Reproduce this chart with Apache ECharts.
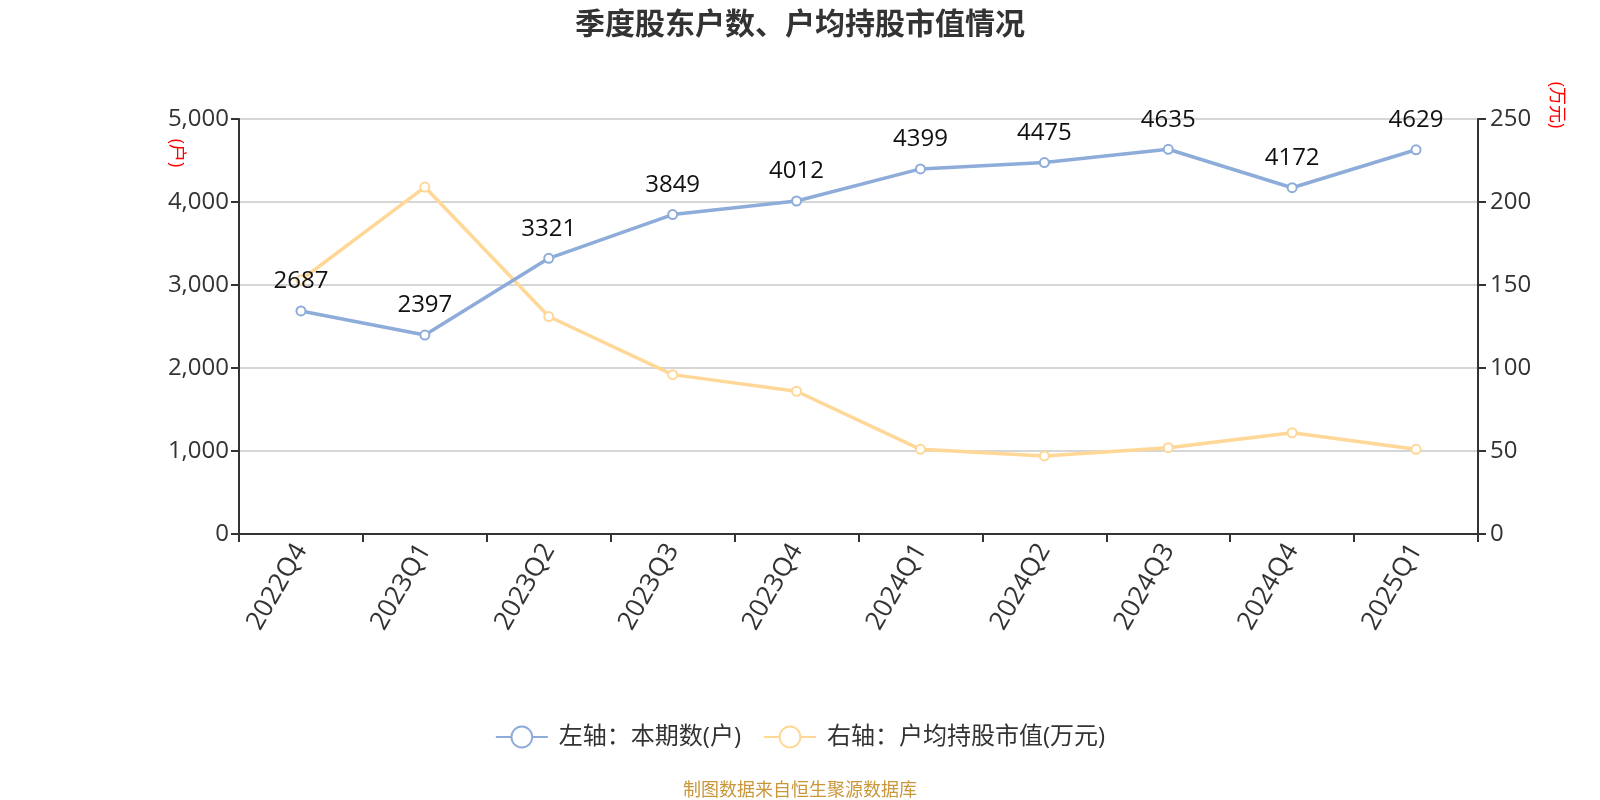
<!DOCTYPE html>
<html><head><meta charset="utf-8">
<script src="https://cdn.jsdelivr.net/npm/echarts@6/dist/echarts.min.js"></script>
<style>html,body{margin:0;padding:0;background:#fff}#c{width:1600px;height:800px}</style>
</head><body><div id="c"></div>
<script>
var categories = ['2022Q4','2023Q1','2023Q2','2023Q3','2023Q4','2024Q1','2024Q2','2024Q3','2024Q4','2025Q1'];
var holders = [2687,2397,3321,3849,4012,4399,4475,4635,4172,4629];
var avgValue = [153,209,131,96,86,51,47,52,61,51];
var leftTicks = {min:0, max:5000, interval:1000};
var rightTicks = {min:0, max:250, interval:50};

var chart = echarts.init(document.getElementById('c'));
var font = '"Open Sans","Noto Sans CJK SC",sans-serif';
chart.setOption({
  textStyle:{fontFamily:font},
  title:[{text:'季度股东户数、户均持股市值情况',left:'center',top:5,textStyle:{fontSize:30,fontWeight:'bold',color:'#333',fontFamily:font}},
         {text:'制图数据来自恒生聚源数据库',left:'center',top:777,textStyle:{fontSize:18,fontWeight:'normal',color:'#c9973a',fontFamily:font}}],
  grid:{left:239,right:122,top:119,bottom:266},
  legend:{bottom:46,left:'center',itemWidth:52,itemHeight:26,itemGap:22,textStyle:{fontSize:24,color:'#333',padding:[0,0,0,6]},
    data:['左轴：本期数(户)','右轴：户均持股市值(万元)']},
  graphic:[
    {type:'text',x:176,y:153,rotation:-Math.PI/2,style:{text:'(户)',fill:'#f00',fontSize:18,textAlign:'center',textVerticalAlign:'middle',fontFamily:font}},
    {type:'text',x:1556,y:105,rotation:-Math.PI/2,style:{text:'(万元)',fill:'#f00',fontSize:18,textAlign:'center',textVerticalAlign:'middle',fontFamily:font}}
  ],
  xAxis:{type:'category',data:categories,boundaryGap:true,
    axisLine:{lineStyle:{color:'#333',width:2}},axisTick:{show:true,length:8,lineStyle:{color:'#333',width:2}},
    axisLabel:{rotate:60,fontSize:26,color:'#333',margin:12}},
  yAxis:[
    {type:'value',min:leftTicks.min,max:leftTicks.max,interval:leftTicks.interval,
     axisLine:{show:true,lineStyle:{color:'#333',width:2}},axisTick:{show:true,length:8,lineStyle:{color:'#333',width:2}},
     axisLabel:{fontSize:24,color:'#333',margin:10},splitLine:{lineStyle:{color:'#c8c8c8',width:1.5}}},
    {type:'value',min:rightTicks.min,max:rightTicks.max,interval:rightTicks.interval,position:'right',
     axisLine:{show:true,lineStyle:{color:'#333',width:2}},axisTick:{show:true,length:8,lineStyle:{color:'#333',width:2}},
     axisLabel:{fontSize:24,color:'#333',margin:12},splitLine:{show:false}}
  ],
  series:[
    {name:'左轴：本期数(户)',type:'line',yAxisIndex:0,data:holders,symbol:'emptyCircle',symbolSize:9,
     itemStyle:{color:'#8eacd9',borderWidth:2},lineStyle:{width:3.5,color:'#8eacd9'},
     label:{show:true,position:'top',distance:12,fontSize:24,color:'#111'},z:3},
    {name:'右轴：户均持股市值(万元)',type:'line',yAxisIndex:1,data:avgValue,symbol:'emptyCircle',symbolSize:9,
     itemStyle:{color:'#ffd797',borderWidth:2},lineStyle:{width:3.5,color:'#ffd797'},z:2}
  ]
});
</script></body></html>
